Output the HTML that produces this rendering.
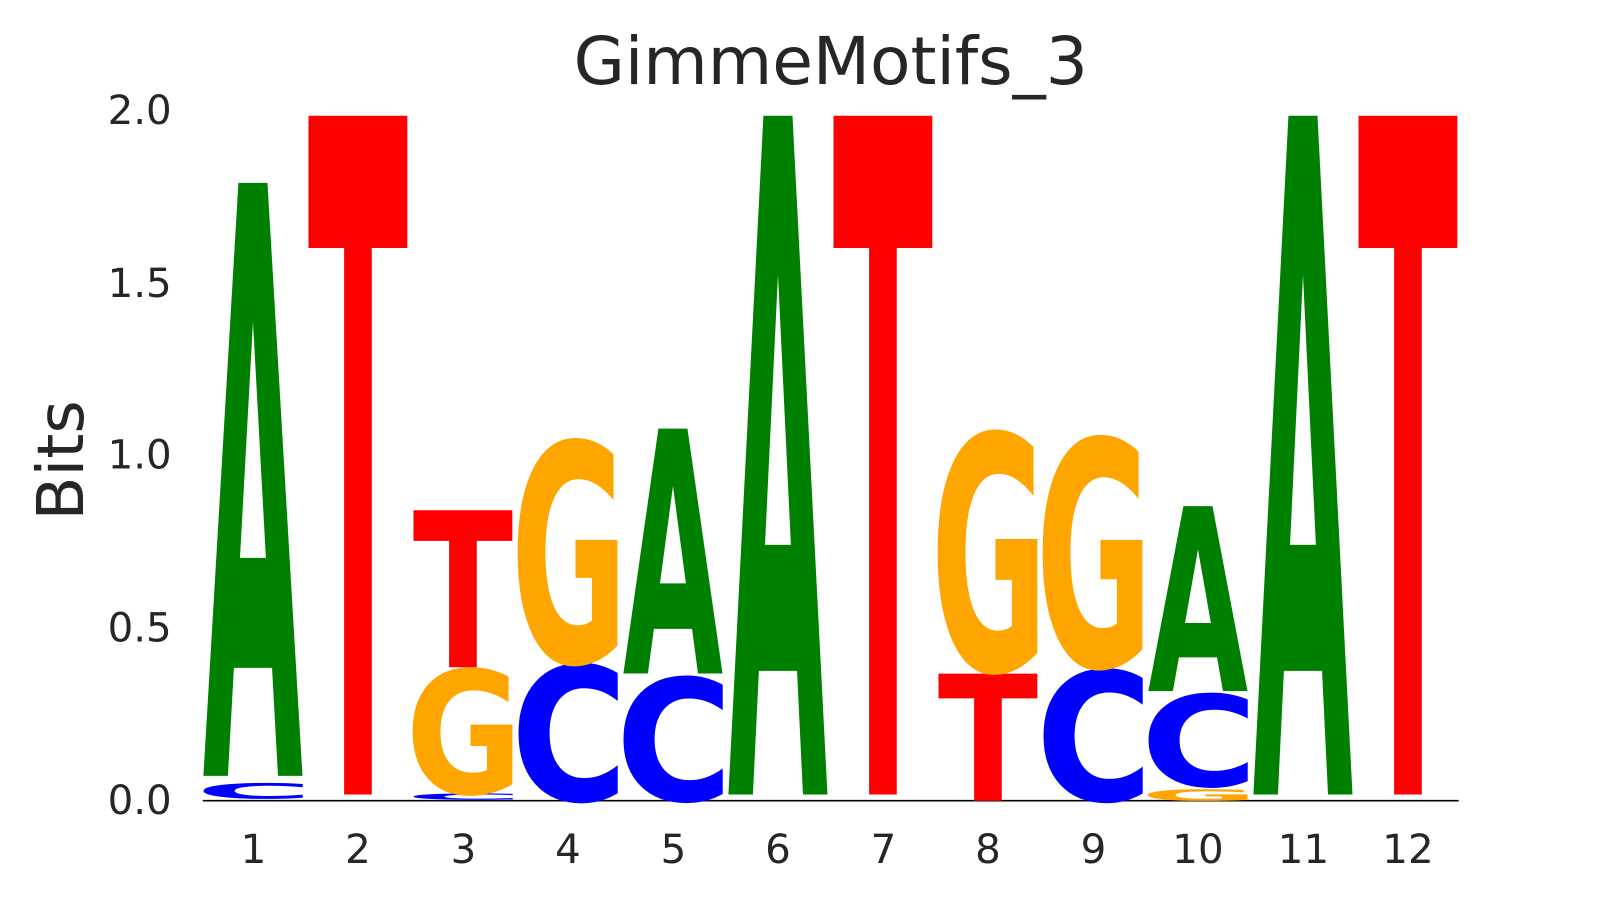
<!DOCTYPE html>
<html><head><meta charset="utf-8"><style>
html,body{margin:0;padding:0;background:#fff;width:1620px;height:900px;overflow:hidden;}
#wrap{position:absolute;left:0;top:0;width:1620px;height:900px;overflow:hidden;}
svg{display:block;overflow:hidden}
</style></head><body>
<div id="wrap">
<svg width="1620" height="900" viewBox="0 0 1620 900" xmlns="http://www.w3.org/2000/svg" overflow="hidden">
<defs><clipPath id="cp"><rect x="0" y="0" width="1566" height="870"/></clipPath></defs>
<g transform="scale(1.0345)">
<g font-family="DejaVu Sans, sans-serif" fill="#262626">
<text x="803" y="81" font-size="64" text-anchor="middle">GimmeMotifs_3</text>
<text transform="translate(80,445) rotate(-90)" font-size="62" text-anchor="middle">Bits</text>
<g font-size="39" text-anchor="end">
<text x="166" y="120">2.0</text>
<text x="166" y="287">1.5</text>
<text x="166" y="453">1.0</text>
<text x="166" y="620">0.5</text>
<text x="166" y="787">0.0</text>
</g>
<g font-size="39" text-anchor="middle">
<text x="245" y="834">1</text><text x="346" y="834">2</text><text x="448" y="834">3</text>
<text x="549" y="834">4</text><text x="651" y="834">5</text><text x="752" y="834">6</text>
<text x="854" y="834">7</text><text x="955" y="834">8</text><text x="1057" y="834">9</text>
<text x="1158" y="834">10</text><text x="1260" y="834">11</text><text x="1361" y="834">12</text>
</g>
</g>
<line x1="196" y1="774" x2="1410" y2="774" stroke="#000" stroke-width="1.5"/>
<g clip-path="url(#cp)"><g id="logo" font-family="DejaVu Sans, sans-serif" font-weight="bold" font-size="100"></g></g>
</g>
<script>
var cols={green:"#008000",red:"#ff0000",orange:"#ffa500",blue:"#0000ff"};
var L={A:"green",T:"red",G:"orange",C:"blue"};
var data=[
[1,[["C",757,772],["A",176,750]]],
[2,[["T",111,768]]],
[3,[["C",767,773],["G",647,767],["T",493,645]]],
[4,[["C",643,774],["G",427,640]]],
[5,[["C",655,774],["A",414,651]]],
[6,[["A",111,768]]],
[7,[["T",111,768]]],
[8,[["T",651,774],["G",419,648]]],
[9,[["C",648,774],["G",424,644]]],
[10,[["G",763,774],["C",671,760],["A",489,668]]],
[11,[["A",111,768]]],
[12,[["T",111,768]]]
];
var g=document.getElementById("logo"),ns="http://www.w3.org/2000/svg";
data.forEach(function(c){
 var x0=196+(c[0]-1)*101.5,w=97;
 c[1].forEach(function(l){
  var t=document.createElementNS(ns,"text");
  var h=l[2]-l[1];
  var round=(l[0]=="C"||l[0]=="G");
  var ww=round?w*1.17:w, xx=round?x0-7:x0;
  t.setAttribute("transform","translate("+xx+","+l[2]+") scale(1,"+(h/73)+")");
  t.setAttribute("x","0");t.setAttribute("y","0");
  t.setAttribute("textLength",ww);t.setAttribute("lengthAdjust","spacingAndGlyphs");
  t.setAttribute("fill",cols[L[l[0]]]);
  t.textContent=l[0];
  g.appendChild(t);
 });
});
</script>
</svg>
</div>
</body></html>
